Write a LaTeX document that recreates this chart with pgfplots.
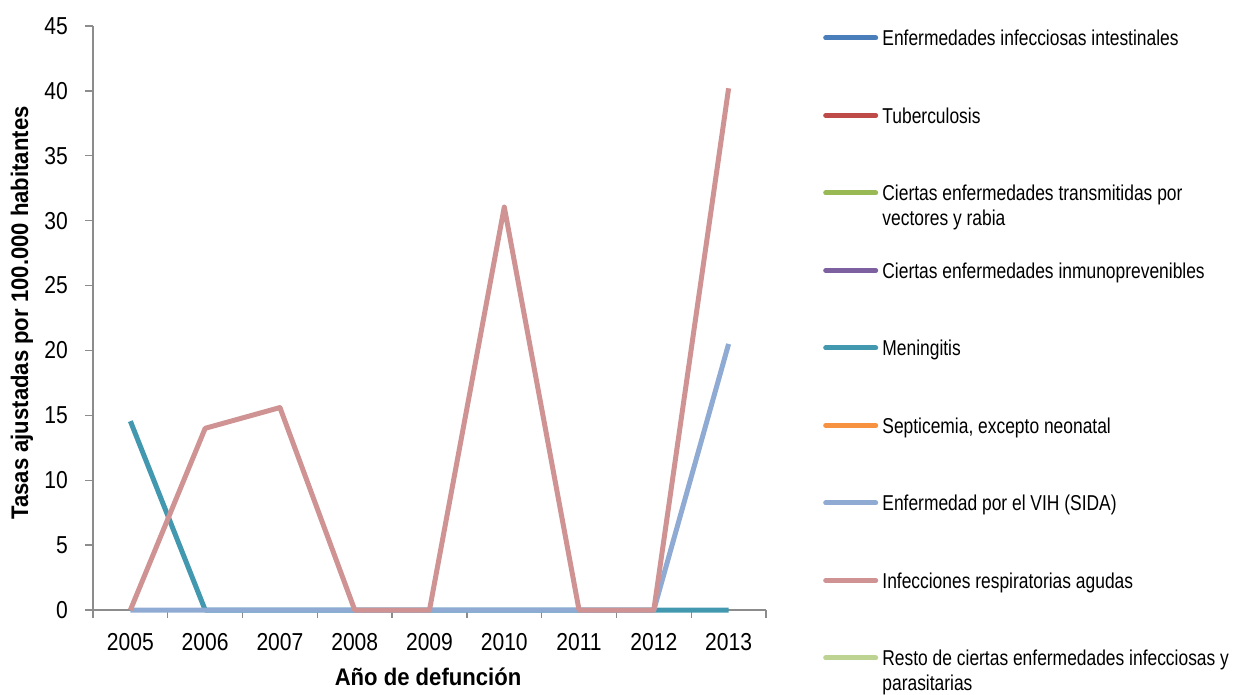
\documentclass[border=0pt]{standalone}
\usepackage{pgfplots}
\pgfplotsset{compat=1.18}
\usepackage{fontspec}
\setmainfont{Liberation Sans}[FakeStretch=0.81]
\newfontfamily\labfont{Liberation Sans}[FakeStretch=0.92]
\newfontfamily\tickfont{Liberation Sans}[FakeStretch=0.86]
\definecolor{c1}{HTML}{4A7EBB}
\definecolor{c2}{HTML}{BE4B48}
\definecolor{c3}{HTML}{98B954}
\definecolor{c4}{HTML}{7D60A0}
\definecolor{c5}{HTML}{4198AF}
\definecolor{c6}{HTML}{F69240}
\definecolor{c7}{HTML}{8FAAD3}
\definecolor{c8}{HTML}{D09393}
\definecolor{c9}{HTML}{BCD392}
\definecolor{axisgray}{HTML}{8C8C8C}
\begin{document}
\begin{tikzpicture}[x=1pt,y=1pt]
\path[use as bounding box] (0,0) rectangle (1233,694);
\begin{axis}[
  at={(93pt,84pt)}, anchor=south west, scale only axis,
  width=673pt, height=584pt,
  xmin=2004.5, xmax=2013.5, ymin=0, ymax=45,
  clip=false,
  axis x line*=bottom, axis y line*=left,
  axis line style={draw=axisgray, line width=1.3pt},
  xtick={2005,2006,2007,2008,2009,2010,2011,2012,2013},
  xticklabels={2005,2006,2007,2008,2009,2010,2011,2012,2013},
  minor xtick={2004.5,2005.5,2006.5,2007.5,2008.5,2009.5,2010.5,2011.5,2012.5,2013.5},
  ytick={0,5,...,45},
  tick align=outside,
  major tick length=8pt, minor tick length=8pt,
  every tick/.style={draw=axisgray, line width=1.3pt},
  every major x tick/.style={draw=none},
  /pgf/number format/assume math mode=true,
  xticklabel style={font=\tickfont\fontsize{24.5}{29}\selectfont, anchor=base, inner sep=0pt, yshift=-32pt},
  yticklabel style={font=\tickfont\fontsize{24.5}{29}\selectfont, anchor=east, inner sep=0pt, xshift=-17pt},
  xlabel={Año de defunción},
  xlabel style={font=\labfont\bfseries\fontsize{24}{28}\selectfont, at={(axis description cs:0.4978,-0.1301)}, anchor=base, inner sep=0pt},
  ylabel={Tasas ajustadas por 100.000 habitantes},
  ylabel style={font=\labfont\bfseries\fontsize{24}{28}\selectfont, at={(axis description cs:-0.1055,0.5086)}, anchor=center, inner sep=0pt},
  legend style={at={(axis description cs:1.0847,0.9937)}, anchor=north west, draw=none, fill=none,
    inner sep=0pt, outer sep=0pt, row sep=0pt, column sep=2pt,
    font=\fontsize{21.5}{24.5}\selectfont,
    cells={anchor=base west},
    nodes={inner sep=0pt, text height=16pt, text depth=61.5pt}},
  legend image code/.code={\draw[#1, line width=5pt, line cap=round] (2.5pt,7.7pt) -- (52.5pt,7.7pt); \path (0pt,0pt) (57pt,0pt);},
]
\addlegendimage{c1}\addlegendentry{Enfermedades infecciosas intestinales}
\addlegendimage{c2}\addlegendentry{Tuberculosis}
\addlegendimage{c3}\addlegendentry{\parbox[t]{360pt}{Ciertas enfermedades transmitidas por\\vectores y rabia}}
\addlegendimage{c4}\addlegendentry{Ciertas enfermedades inmunoprevenibles}
\addlegendimage{c5}\addlegendentry{Meningitis}
\addlegendimage{c6}\addlegendentry{Septicemia, excepto neonatal}
\addlegendimage{c7}\addlegendentry{Enfermedad por el VIH (SIDA)}
\addlegendimage{c8}\addlegendentry{Infecciones respiratorias agudas}
\addlegendimage{c9}\addlegendentry{\parbox[t]{360pt}{Resto de ciertas enfermedades infecciosas y\\parasitarias}}

% Meningitis
\addplot[c5, line width=5pt, line join=round, forget plot] coordinates {
 (2005,14.55) (2006,0) (2007,0) (2008,0) (2009,0) (2010,0) (2011,0) (2012,0) (2013,0)};
% VIH (SIDA)
\addplot[c7, line width=5pt, line join=round, forget plot] coordinates {
 (2005,0) (2006,0) (2007,0) (2008,0) (2009,0) (2010,0) (2011,0) (2012,0) (2013,20.5)};
% Infecciones respiratorias agudas
\addplot[c8, line width=5pt, line join=round, forget plot] coordinates {
 (2005,0) (2006,14.0) (2007,15.6) (2008,0) (2009,0) (2010,31.05) (2011,0) (2012,0) (2013,40.2)};
\end{axis}
\end{tikzpicture}
\end{document}
